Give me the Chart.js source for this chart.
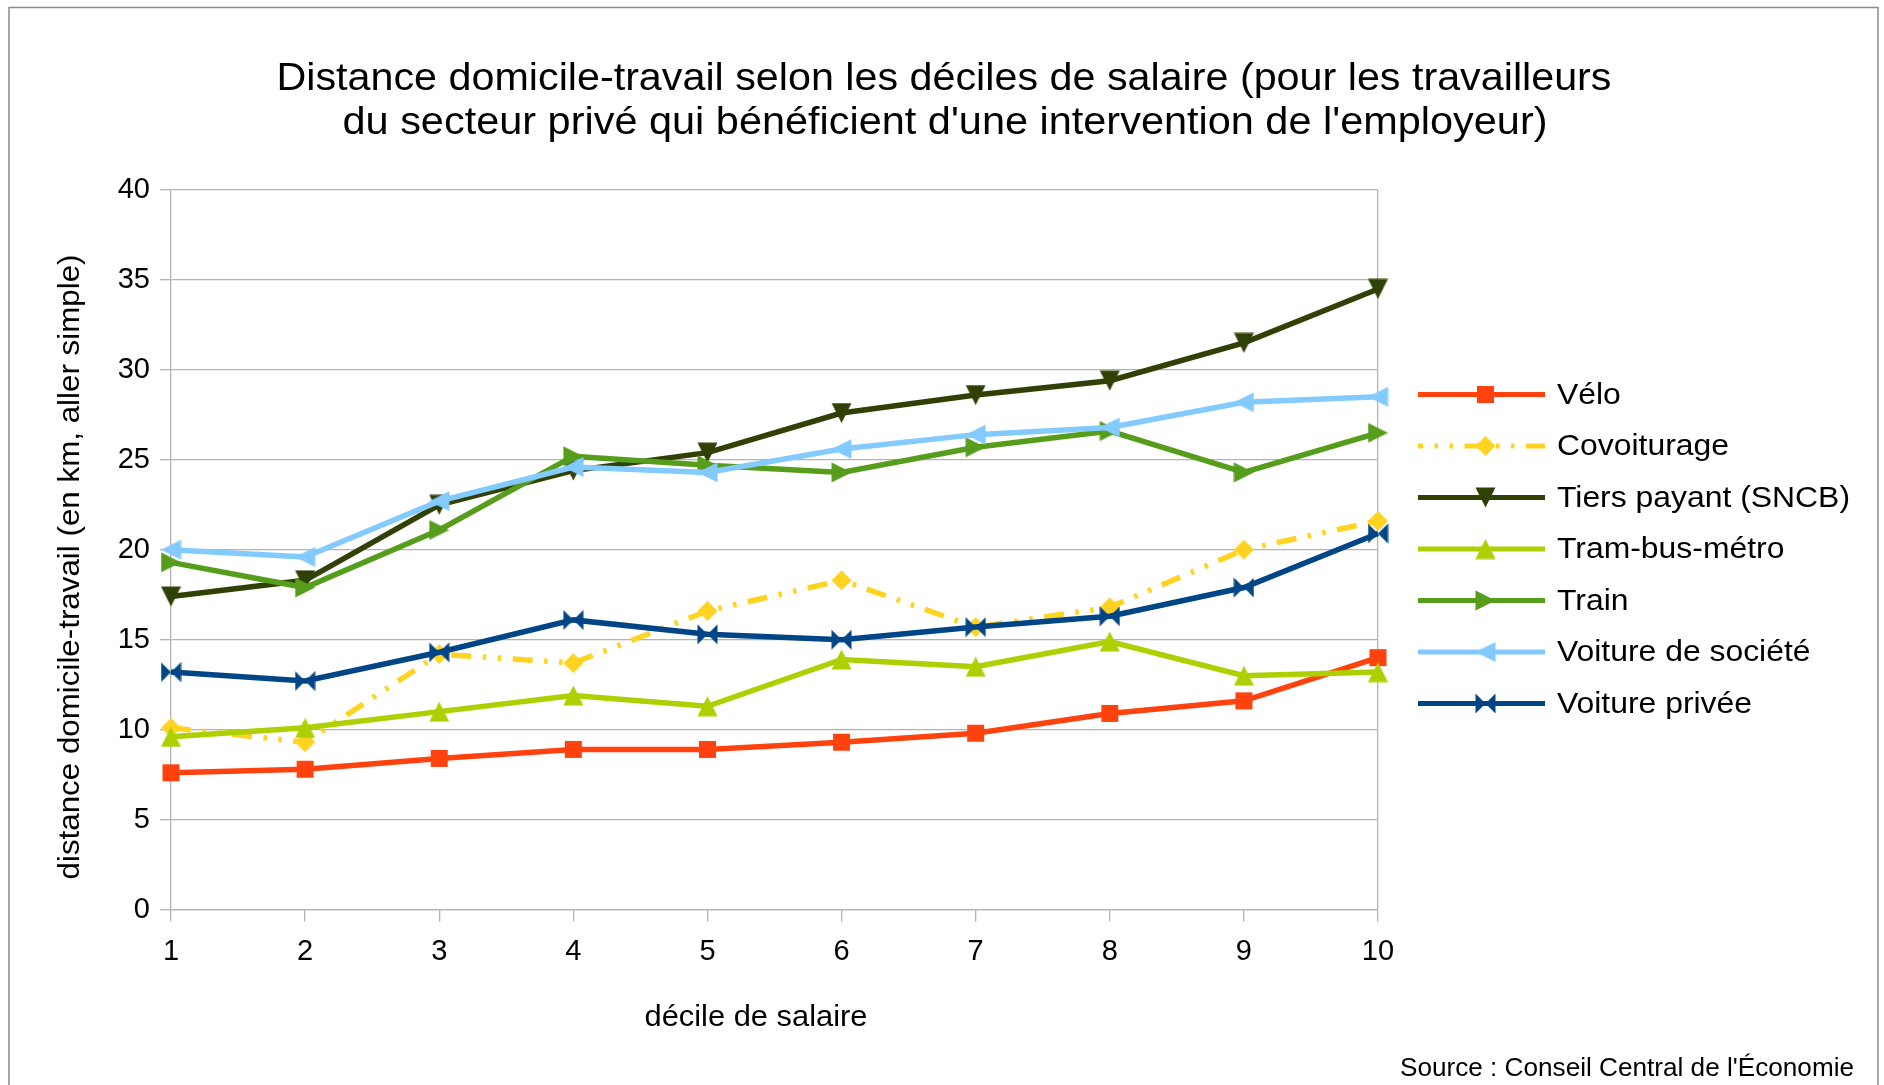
<!DOCTYPE html>
<html><head><meta charset="utf-8">
<script src="https://cdn.jsdelivr.net/npm/chart.js@4.4.0/dist/chart.umd.min.js"></script>
<style>html,body{margin:0;padding:0;background:#fff;overflow:hidden}canvas{display:block}</style>
</head><body>
<canvas id="c" width="1884" height="1085"></canvas>
<script>
// ---- data ----
const deciles = ['1','2','3','4','5','6','7','8','9','10'];
const velo          = [7.6, 7.8, 8.4, 8.9, 8.9, 9.3, 9.8, 10.9, 11.6, 14.0];
const covoiturage   = [10.1, 9.3, 14.2, 13.7, 16.6, 18.3, 15.7, 16.8, 20.0, 21.6];
const tiersPayant   = [17.4, 18.3, 22.5, 24.4, 25.4, 27.6, 28.6, 29.4, 31.5, 34.5];
const tramBusMetro  = [9.6, 10.1, 11.0, 11.9, 11.3, 13.9, 13.5, 14.9, 13.0, 13.2];
const train         = [19.3, 17.9, 21.1, 25.2, 24.7, 24.3, 25.7, 26.6, 24.3, 26.5];
const voitureSociete= [20.0, 19.6, 22.7, 24.6, 24.3, 25.6, 26.4, 26.8, 28.2, 28.5];
const voiturePrivee = [13.2, 12.7, 14.3, 16.1, 15.3, 15.0, 15.7, 16.3, 17.9, 20.9];
const seriesNames = ['Vélo','Covoiturage','Tiers payant (SNCB)','Tram-bus-métro','Train','Voiture de société','Voiture privée'];
const titleLines = ["Distance domicile-travail selon les déciles de salaire (pour les travailleurs", "du secteur privé qui bénéficient d'une intervention de l'employeur)"];
const xTitle = 'décile de salaire';
const yTitle = 'distance domicile-travail (en km, aller simple)';
const sourceText = "Source : Conseil Central de l'Économie";
const yMin = 0, yMax = 40, yStep = 5;

// ---- styles ----
const FONT = '"Liberation Sans", Arial, sans-serif';
const GRID = '#b3b3b3';
const colors = ['#ff420e','#ffd320','#314004','#aecf00','#579d1c','#83caff','#004586'];
const shapes = ['square','diamond','down','up','right','left','bowtie'];
const dashes = [[], [20,11.5,3.5,11.5,3.5,11.5], [], [], [], [], []];

function marker(shape, color) {
  const s = 21, c = document.createElement('canvas');
  c.width = s; c.height = s;
  const g = c.getContext('2d');
  g.fillStyle = color; g.beginPath();
  const m = 0.5, e = s - 0.5, h = s / 2;
  switch (shape) {
    case 'square': g.rect(2, 2, 17, 17); break;
    case 'diamond': g.moveTo(h, m); g.lineTo(e, h); g.lineTo(h, e); g.lineTo(m, h); g.closePath(); break;
    case 'down': g.moveTo(m, m); g.lineTo(e, m); g.lineTo(h, e); g.closePath(); break;
    case 'up': g.moveTo(h, m); g.lineTo(e, e); g.lineTo(m, e); g.closePath(); break;
    case 'right': g.moveTo(m, m); g.lineTo(e, h); g.lineTo(m, e); g.closePath(); break;
    case 'left': g.moveTo(e, m); g.lineTo(m, h); g.lineTo(e, e); g.closePath(); break;
    case 'bowtie':
      g.moveTo(m, m); g.lineTo(h, h); g.lineTo(m, e); g.closePath();
      g.moveTo(e, m); g.lineTo(h, h); g.lineTo(e, e); g.closePath(); break;
  }
  g.fill();
  return c;
}
const markers = shapes.map((s, i) => marker(s, colors[i]));
const allData = [velo, covoiturage, tiersPayant, tramBusMetro, train, voitureSociete, voiturePrivee];

const datasets = allData.map((d, i) => ({
  label: seriesNames[i],
  data: d,
  borderColor: colors[i],
  backgroundColor: colors[i],
  borderWidth: 5.5,
  borderDash: dashes[i],
  borderCapStyle: 'butt',
  borderJoinStyle: 'miter',
  pointStyle: markers[i],
  pointRadius: 10,
  tension: 0,
  clip: false,
  order: allData.length - i
}));

// draw text stretched horizontally to a given width
function fitText(g, text, x, y, width) {
  const w = g.measureText(text).width;
  const k = width / w;
  g.save(); g.translate(x, y); g.scale(k, 1); g.fillText(text, 0, 0); g.restore();
}

const decor = {
  id: 'decor',
  beforeDraw(chart) {
    const g = chart.ctx;
    g.save(); g.fillStyle = '#fff'; g.fillRect(0, 0, chart.width, chart.height); g.restore();
  },
  afterDraw(chart) {
    const g = chart.ctx;
    g.save();
    // outer border
    g.strokeStyle = '#8c8c8c'; g.lineWidth = 1.5;
    g.strokeRect(9, 7.5, 1869, 1100);
    g.fillStyle = '#000';
    // title
    g.font = '38px ' + FONT; g.textAlign = 'center'; g.textBaseline = 'alphabetic';
    fitText(g, titleLines[0], 944, 89.5, 1335);
    fitText(g, titleLines[1], 945, 133.5, 1205);
    // axis titles
    g.font = '30px ' + FONT;
    fitText(g, xTitle, 756, 1026, 223);
    g.save(); g.translate(79, 567); g.rotate(-Math.PI / 2);
    fitText(g, yTitle, 0, 0, 625); g.restore();
    // source
    g.font = '25px ' + FONT; g.textAlign = 'right';
    fitText(g, sourceText, 1854, 1076, 454);
    // legend
    g.font = '30px ' + FONT; g.textAlign = 'left'; g.textBaseline = 'middle';
    const legK = 293 / g.measureText(seriesNames[2]).width;
    chart.data.datasets.forEach((ds, i) => {
      const y = 394.5 + i * 51.5;
      g.save();
      g.strokeStyle = ds.borderColor; g.lineWidth = 5; g.lineCap = 'butt';
      g.setLineDash(dashes[i].length ? dashes[i] : []);
      if (dashes[i].length) g.lineDashOffset = 15;
      g.beginPath(); g.moveTo(1418, y); g.lineTo(1545, y); g.stroke();
      g.restore();
      g.drawImage(markers[i], 1485.5 - 10.5, y - 10.5);
      g.fillStyle = '#000';
      g.save(); g.translate(1557, y + 1); g.scale(legK, 1); g.fillText(ds.label, 0, 0); g.restore();
    });
    g.restore();
  }
};

new Chart(document.getElementById('c'), {
  type: 'line',
  data: { labels: deciles, datasets },
  options: {
    responsive: false, animation: false, devicePixelRatio: 1,
    layout: { padding: { left: 0, right: 506, top: 190, bottom: 0 } },
    plugins: { legend: { display: false }, title: { display: false }, tooltip: { enabled: false } },
    scales: {
      x: {
        type: 'category', offset: false,
        grid: { color: c => (c.index === deciles.length - 1 ? GRID : 'rgba(0,0,0,0)'), tickColor: GRID, tickLength: 12, lineWidth: 1.3 },
        border: { color: GRID, width: 1.3 },
        ticks: { font: { family: FONT, size: 29 }, color: '#000', padding: 13, maxRotation: 0, autoSkip: false },
        afterFit: s => { s.height = 1085 - 909.5; }
      },
      y: {
        min: yMin, max: yMax,
        ticks: { stepSize: yStep, font: { family: FONT, size: 29 }, color: '#000', padding: 10 },
        grid: { color: GRID, tickLength: 11, lineWidth: 1.3 },
        border: { color: GRID, width: 1.3 },
        afterFit: s => { s.width = 171; }
      }
    }
  },
  plugins: [decor]
});
</script>
</body></html>
